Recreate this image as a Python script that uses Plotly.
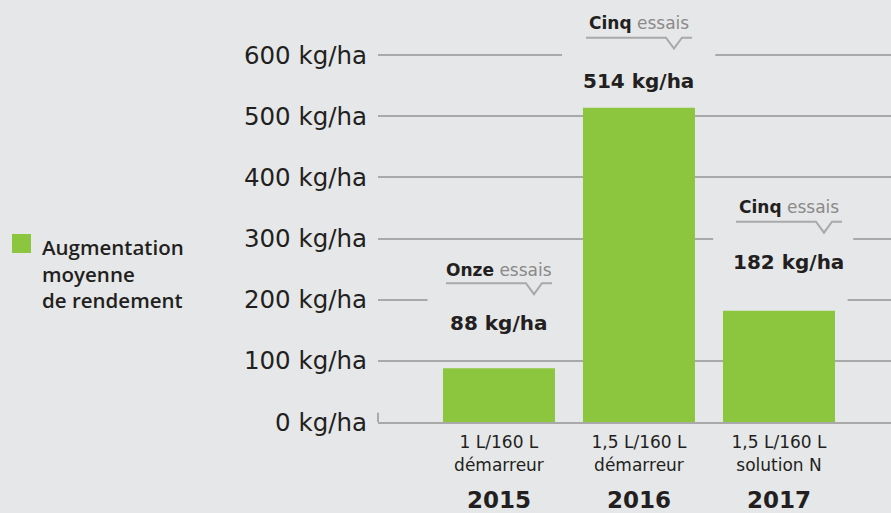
import plotly.graph_objects as go

# ---- data ----
years = ["2015", "2016", "2017"]
products = ["1 L/160 L<br>démarreur", "1,5 L/160 L<br>démarreur", "1,5 L/160 L<br>solution N"]
gains = [88, 514, 182]
trials = ["Onze", "Cinq", "Cinq"]
y_ticks = [0, 100, 200, 300, 400, 500, 600]
y_tick_labels = [f"{v} kg/ha" for v in y_ticks]
legend_label = "Augmentation<br>moyenne<br>de rendement"

# ---- style ----
BG = "#e6e7e8"
GREEN = "#8cc63f"
GRID = "#a9a9a9"
DARK = "#231f20"
GREYTXT = "#8a8a8a"
FONT = "DejaVu Sans"

W, H = 891, 513
L, R, T, B = 378, 0, 0, 91
plot_w = W - L - R
plot_h = H - T - B
XR = [-0.864, 2.80]
YR = [0, 690]
px_x = (XR[1] - XR[0]) / plot_w      # data units per px (x)
px_y = (YR[1] - YR[0]) / plot_h      # data units per px (y)

xs = list(range(len(years)))

fig = go.Figure()
fig.add_trace(go.Bar(x=xs, y=gains, width=0.8, marker=dict(color=GREEN, line=dict(width=0)),
                     showlegend=False, hoverinfo="skip"))

# label layout (per bar): horizontal shift in px, vertical gaps above bar top (px)
label_dx = [0, 0, 10]
value_gap = [45, 27, 49]
note_gap = [98, 85, 104]
line_gap = [85, 70, 89]

annotations = []
shapes = []
for i, (g, t) in enumerate(zip(gains, trials)):
    cx = i + label_dx[i] * px_x
    vy = g + value_gap[i] * px_y
    ny = g + note_gap[i] * px_y
    ly = g + line_gap[i] * px_y
    annotations.append(dict(x=cx, y=vy, xref="x", yref="y", text=f"<b>{g} kg/ha</b>",
                            showarrow=False, font=dict(family=FONT, size=20, color=DARK),
                            xanchor="center", yanchor="middle"))
    annotations.append(dict(x=cx, y=ny, xref="x", yref="y",
                            text=f"<b>{t}</b> <span style='color:{GREYTXT}'>essais</span>",
                            showarrow=False, font=dict(family=FONT, size=17, color=DARK),
                            xanchor="center", yanchor="middle"))
    x0 = cx - 53 * px_x
    x1 = cx + 53 * px_x
    nl, nt, nr = x1 - 26 * px_x, x1 - 18 * px_x, x1 - 10 * px_x
    depth = 11 * px_y
    path = f"M {x0},{ly} L {nl},{ly} L {nt},{ly - depth} L {nr},{ly} L {x1},{ly}"
    shapes.append(dict(type="path", path=path, xref="x", yref="y",
                       line=dict(color=GRID, width=2), layer="above"))

# gridline gaps around the labels (background-coloured masks between grid and bars)
masks = [
    (-0.51, 0.7, 170, 260),
    (0.45, 1.545, 570, 640),
    (1.53, 2.53, 280, 320),
    (1.4, 2.49, 180, 220),
]
for x0, x1, y0, y1 in masks:
    shapes.append(dict(type="rect", xref="x", yref="y", x0=x0, x1=x1, y0=y0, y1=y1,
                       fillcolor=BG, line=dict(width=0), layer="between"))

# small upturn at the left end of the baseline
shapes.append(dict(type="line", xref="paper", yref="y", x0=0, x1=0, y0=0, y1=15,
                   line=dict(color=GRID, width=2)))

# years under categories
for i, yr in enumerate(years):
    annotations.append(dict(x=i, y=(0 - 78) / plot_h, xref="x", yref="paper", text=f"<b>{yr}</b>",
                            showarrow=False, font=dict(family=FONT, size=23, color=DARK),
                            xanchor="center", yanchor="middle"))

# legend (square + text)
shapes.append(dict(type="rect", xref="paper", yref="paper",
                   x0=(12 - L) / plot_w, x1=(31 - L) / plot_w,
                   y0=(plot_h - 253) / plot_h, y1=(plot_h - 234) / plot_h,
                   fillcolor=GREEN, line=dict(width=0)))
annotations.append(dict(x=(40 - L) / plot_w, y=(plot_h - 231) / plot_h, xref="paper", yref="paper",
                        text=legend_label, align="left", showarrow=False,
                        font=dict(family="Open Sans", size=20.5, color=DARK, weight=600),
                        xanchor="left", yanchor="top"))

fig.update_layout(
    width=W, height=H,
    margin=dict(l=L, r=R, t=T, b=B, pad=0),
    paper_bgcolor=BG, plot_bgcolor=BG,
    bargap=0.2,
    shapes=shapes, annotations=annotations,
    xaxis=dict(range=XR, tickvals=xs, ticktext=products, showgrid=False, zeroline=False,
               showline=True, linecolor=GRID, linewidth=2,
               tickfont=dict(family=FONT, size=17, color=DARK), ticks="", ticklabelstandoff=4),
    yaxis=dict(range=YR, tickvals=y_ticks, ticktext=y_tick_labels, showgrid=True,
               gridcolor=GRID, gridwidth=2, zeroline=False, showline=False,
               tickfont=dict(family=FONT, size=24.5, color=DARK), ticks="", ticklabelstandoff=10),
)

fig.write_html("out.html", config={"displayModeBar": False},
               post_script="document.body.style.margin='0px';document.body.style.background='" + BG + "';")
